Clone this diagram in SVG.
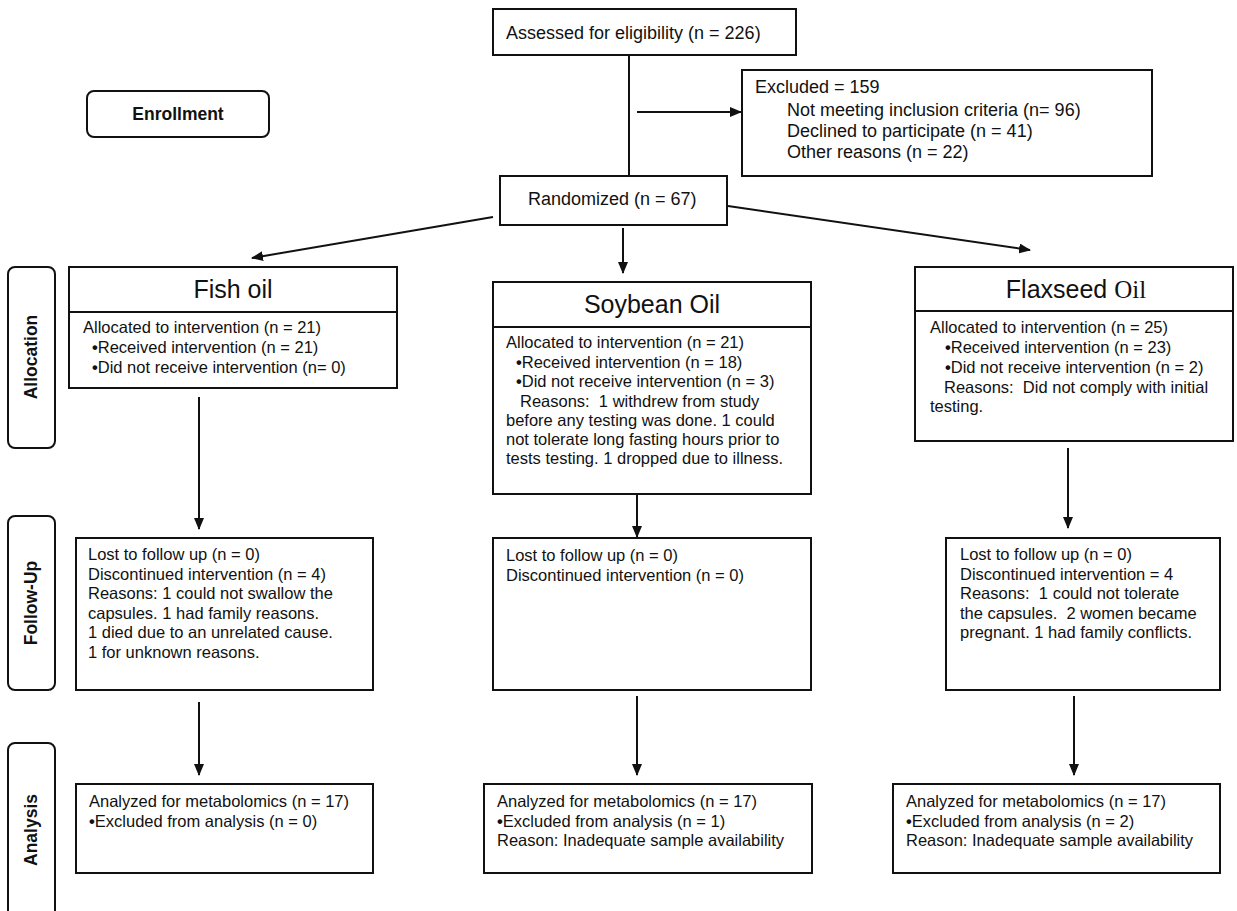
<svg xmlns="http://www.w3.org/2000/svg" width="1237" height="911" viewBox="0 0 1237 911">
<style>
.box{fill:#fff;stroke:#111;stroke-width:2}
.lane{fill:#fff;stroke:#111;stroke-width:2}
.ln{fill:none;stroke:#111;stroke-width:2}
text{font-family:"Liberation Sans",Arial,sans-serif;fill:#111;white-space:pre}
.t18{font-size:18px}
.t{font-size:16.5px}
.b{font-weight:bold}
.ttl{font-size:25px;text-anchor:middle}
.lbl{font-size:17.5px;font-weight:bold;text-anchor:middle}
</style>
<defs>
<marker id="ah" markerUnits="userSpaceOnUse" markerWidth="12" markerHeight="10" refX="11" refY="5" orient="auto">
<path d="M0,0 L12,5 L0,10 Z" fill="#111"/>
</marker>
</defs>
<rect width="1237" height="911" fill="#fff"/>

<g id="lane-enrollment"><rect class="lane" x="87" y="91" width="182" height="46" rx="7"/><text class="lbl" x="178" y="120">Enrollment</text></g>
<g id="lane-allocation"><rect class="lane" x="8" y="267" width="47" height="181" rx="7"/><text class="lbl" transform="translate(37,357) rotate(-90)">Allocation</text></g>
<g id="lane-followup"><rect class="lane" x="8" y="516" width="47" height="174" rx="7"/><text class="lbl" transform="translate(37,603) rotate(-90)">Follow-Up</text></g>
<g id="lane-analysis"><rect class="lane" x="8" y="743" width="47" height="190" rx="7"/><text class="lbl" transform="translate(37,830) rotate(-90)">Analysis</text></g>

<g id="connectors">
<line class="ln" x1="629" y1="55" x2="629" y2="176"/>
<line class="ln" x1="637" y1="112" x2="741" y2="112" marker-end="url(#ah)"/>
<line class="ln" x1="493" y1="217" x2="252" y2="258" marker-end="url(#ah)"/>
<line class="ln" x1="623" y1="228" x2="623" y2="273" marker-end="url(#ah)"/>
<line class="ln" x1="728" y1="206" x2="1030" y2="250" marker-end="url(#ah)"/>
<line class="ln" x1="199" y1="397" x2="199" y2="529" marker-end="url(#ah)"/>
<line class="ln" x1="637" y1="494" x2="637" y2="537" marker-end="url(#ah)"/>
<line class="ln" x1="1068" y1="448" x2="1068" y2="528" marker-end="url(#ah)"/>
<line class="ln" x1="199" y1="702" x2="199" y2="775" marker-end="url(#ah)"/>
<line class="ln" x1="637" y1="696" x2="637" y2="775" marker-end="url(#ah)"/>
<line class="ln" x1="1074" y1="696" x2="1074" y2="775" marker-end="url(#ah)"/>
</g>

<g id="assessed"><rect class="box" x="493" y="9" width="303" height="46"/><text class="t18" x="506" y="39">Assessed for eligibility (n = 226)</text></g>
<g id="excluded"><rect class="box" x="742" y="70" width="410" height="106"/>
<text class="t18" x="755" y="93">Excluded = 159</text>
<text class="t18" x="787" y="116">Not meeting inclusion criteria (n= 96)</text>
<text class="t18" x="787" y="137">Declined to participate (n = 41)</text>
<text class="t18" x="787" y="158">Other reasons (n = 22)</text></g>
<g id="randomized"><rect class="box" x="500" y="176" width="227" height="49"/><text class="t18" x="528" y="205">Randomized (n = 67)</text></g>

<g id="fish-alloc"><rect class="box" x="69" y="267" width="328" height="121"/><line class="ln" x1="69" y1="312" x2="397" y2="312"/>
<text class="ttl" x="233" y="298">Fish oil</text>
<text class="t" x="83" y="333">Allocated to intervention (n = 21)</text>
<text class="t" x="92" y="353"><tspan class="b">•</tspan>Received intervention (n = 21)</text>
<text class="t" x="92" y="373"><tspan class="b">•</tspan>Did not receive intervention (n= 0)</text></g>

<g id="soy-alloc"><rect class="box" x="493" y="282" width="318" height="212"/><line class="ln" x1="493" y1="327" x2="811" y2="327"/>
<text class="ttl" x="652" y="313">Soybean Oil</text>
<text class="t" x="506" y="348">Allocated to intervention (n = 21)</text>
<text class="t" x="516" y="368"><tspan class="b">•</tspan>Received intervention (n = 18)</text>
<text class="t" x="516" y="387"><tspan class="b">•</tspan>Did not receive intervention (n = 3)</text>
<text class="t" x="520" y="407">Reasons:  1 withdrew from study</text>
<text class="t" x="506" y="426">before any testing was done. 1 could</text>
<text class="t" x="506" y="445">not tolerate long fasting hours prior to</text>
<text class="t" x="506" y="464">tests testing. 1 dropped due to illness.</text></g>

<g id="flax-alloc"><rect class="box" x="915" y="267" width="318" height="174"/><line class="ln" x1="915" y1="311" x2="1233" y2="311"/>
<text class="ttl" x="1076" y="298">Flaxseed <tspan font-family="'Liberation Serif','Times New Roman',serif">Oil</tspan></text>
<text class="t" x="930" y="333">Allocated to intervention (n = 25)</text>
<text class="t" x="945" y="353"><tspan class="b">•</tspan>Received intervention (n = 23)</text>
<text class="t" x="945" y="373"><tspan class="b">•</tspan>Did not receive intervention (n = 2)</text>
<text class="t" x="944" y="393">Reasons:  Did not comply with initial</text>
<text class="t" x="930" y="412">testing.</text></g>

<g id="fish-followup"><rect class="box" x="76" y="538" width="297" height="152"/>
<text class="t" x="88" y="560">Lost to follow up (n = 0)</text>
<text class="t" x="88" y="580">Discontinued intervention (n = 4)</text>
<text class="t" x="88" y="599">Reasons: 1 could not swallow the</text>
<text class="t" x="88" y="619">capsules. 1 had family reasons.</text>
<text class="t" x="88" y="638">1 died due to an unrelated cause.</text>
<text class="t" x="88" y="658">1 for unknown reasons.</text></g>

<g id="soy-followup"><rect class="box" x="493" y="538" width="318" height="152"/>
<text class="t" x="506" y="561">Lost to follow up (n = 0)</text>
<text class="t" x="506" y="581">Discontinued intervention (n = 0)</text></g>

<g id="flax-followup"><rect class="box" x="946" y="538" width="274" height="152"/>
<text class="t" x="960" y="560">Lost to follow up (n = 0)</text>
<text class="t" x="960" y="580">Discontinued intervention = 4</text>
<text class="t" x="960" y="599">Reasons:  1 could not tolerate</text>
<text class="t" x="960" y="619">the capsules.  2 women became</text>
<text class="t" x="960" y="638">pregnant. 1 had family conflicts.</text></g>

<g id="fish-analysis"><rect class="box" x="76" y="784" width="297" height="89"/>
<text class="t" x="89" y="807">Analyzed for metabolomics (n = 17)</text>
<text class="t" x="89" y="827"><tspan class="b">•</tspan>Excluded from analysis (n = 0)</text></g>

<g id="soy-analysis"><rect class="box" x="484" y="784" width="328" height="89"/>
<text class="t" x="497" y="807">Analyzed for metabolomics (n = 17)</text>
<text class="t" x="497" y="827"><tspan class="b">•</tspan>Excluded from analysis (n = 1)</text>
<text class="t" x="497" y="846">Reason: Inadequate sample availability</text></g>

<g id="flax-analysis"><rect class="box" x="893" y="784" width="327" height="89"/>
<text class="t" x="906" y="807">Analyzed for metabolomics (n = 17)</text>
<text class="t" x="906" y="827"><tspan class="b">•</tspan>Excluded from analysis (n = 2)</text>
<text class="t" x="906" y="846">Reason: Inadequate sample availability</text></g>
</svg>
